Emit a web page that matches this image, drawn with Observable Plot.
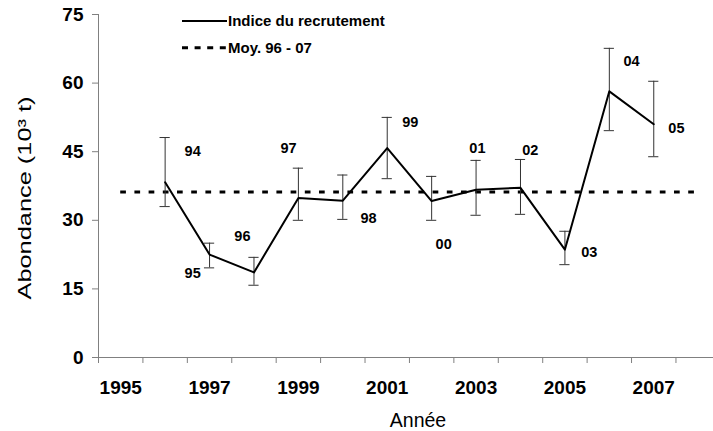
<!DOCTYPE html>
<html>
<head>
<meta charset="utf-8">
<script src="https://cdn.jsdelivr.net/npm/d3@7"></script>
<script src="https://cdn.jsdelivr.net/npm/@observablehq/plot@0.6"></script>
<style>
  html, body { margin: 0; padding: 0; background: #fff; }
  #chart { position: relative; width: 713px; height: 431px; font-family: "Liberation Sans", Arial, sans-serif; }
  #chart svg.main { position: absolute; left: 0; top: 0; }
  #legend { position: absolute; left: 0; top: 0; }
  .main g[aria-label="y-axis tick label"], .main g[aria-label="x-axis tick label"] { font-weight: bold; }
</style>
</head>
<body>
<div id="chart"></div>
<script>
// ---- data ----
const years = [1996, 1997, 1998, 1999, 2000, 2001, 2002, 2003, 2004, 2005, 2006, 2007];
const yearClass = ["94", "95", "96", "97", "98", "99", "00", "01", "02", "03", "04", "05"];
const recruitment = [38.3, 22.5, 18.6, 34.9, 34.3, 45.8, 34.2, 36.7, 37.1, 23.6, 58.2, 51.0];
const lower = [33.0, 19.6, 15.8, 30.0, 30.2, 39.1, 30.0, 31.1, 31.3, 20.3, 49.6, 43.9];
const upper = [48.1, 25.0, 21.9, 41.4, 39.9, 52.5, 39.6, 43.1, 43.3, 27.6, 67.6, 60.4];
const meanValue = 36.2;
const meanSpan = [1995, 2008];
// annotation anchors for the year-class labels (in data units)
const labelYear = [1996.62, 1996.62, 1997.74, 1998.78, 2000.58, 2001.52, 2002.27, 2003.03, 2004.22, 2005.55, 2006.50, 2007.51];
const labelValue = [45.1, 18.4, 26.5, 45.7, 30.5, 51.4, 24.7, 45.7, 45.3, 23.0, 64.7, 50.1];
const yTicks = [0, 15, 30, 45, 60, 75];
const xTickLabels = [1995, 1997, 1999, 2001, 2003, 2005, 2007];
const xDomain = [1994.5, 2008.345];
const yDomain = [0, 75];
const xTitle = "Année";
const yTitle = "Abondance (10³ t)";
const legendLabels = ["Indice du recrutement", "Moy. 96 - 07"];

const rows = years.map((year, i) => ({
  year, cls: yearClass[i], value: recruitment[i], lo: lower[i], hi: upper[i],
  ly: labelYear[i], lv: labelValue[i]
}));
const capHalf = 0.115;
const axisGray = "#808080";
const barGray = "#333";

const plot = Plot.plot({
  width: 713,
  height: 431,
  marginLeft: 98,
  marginRight: 0,
  marginTop: 14,
  marginBottom: 74,
  className: "main",
  style: { fontFamily: "Liberation Sans, Arial, sans-serif", background: "white", color: "black", overflow: "visible" },
  x: { type: "linear", domain: xDomain },
  y: { type: "linear", domain: yDomain },
  marks: [
    Plot.ruleY([0], { stroke: axisGray, strokeWidth: 1 }),
    Plot.ruleX([xDomain[0]], { y1: yDomain[0], y2: yDomain[1], stroke: axisGray, strokeWidth: 1 }),
    Plot.axisY({ ticks: yTicks, tickSize: 6, tickPadding: 9, fontSize: 19, fontWeight: "bold", label: null, stroke: axisGray, tickFormat: d => String(d) }),
    Plot.axisX({ ticks: d3.range(xDomain[0], xDomain[1], 1), tickSize: 6, tickFormat: () => "", label: null, stroke: axisGray }),
    Plot.axisX({ ticks: xTickLabels, tickSize: 0, tickPadding: 23, tickFormat: d => String(d), fontSize: 19, fontWeight: "bold", label: null }),
    Plot.text([yTitle], { text: d => d, frameAnchor: "left", rotate: -90, dx: -74, dy: 12, fontSize: 19, textAnchor: "middle", lineAnchor: "middle" }),
    Plot.text([xTitle], { text: d => d, frameAnchor: "bottom", dx: 12, dy: 63.6, fontSize: 19.5, textAnchor: "middle", lineAnchor: "middle" }),
    Plot.ruleY([meanValue], { x1: meanSpan[0], x2: meanSpan[1], stroke: "black", strokeWidth: 3, strokeDasharray: "5.7,8.5" }),
    Plot.ruleX(rows, { x: "year", y1: "lo", y2: "hi", stroke: barGray, strokeWidth: 1 }),
    Plot.ruleY(rows, { y: "lo", x1: d => d.year - capHalf, x2: d => d.year + capHalf, stroke: barGray, strokeWidth: 1 }),
    Plot.ruleY(rows, { y: "hi", x1: d => d.year - capHalf, x2: d => d.year + capHalf, stroke: barGray, strokeWidth: 1 }),
    Plot.line(rows, { x: "year", y: "value", stroke: "black", strokeWidth: 2 }),
    Plot.text(rows, { x: "ly", y: "lv", text: "cls", fontSize: 14.5, fontWeight: "bold", lineAnchor: "middle" })
  ]
});
document.getElementById("chart").appendChild(plot);

// widen the rotated y title to the reference's length
d3.select(plot).selectAll("text")
  .filter(function () { return this.textContent === yTitle; })
  .attr("textLength", 203)
  .attr("lengthAdjust", "spacingAndGlyphs");

// ---- legend (inside the plot area, top) ----
const legend = d3.select("#chart").append("svg")
  .attr("id", "legend").attr("width", 713).attr("height", 60)
  .style("font-family", "Liberation Sans, Arial, sans-serif");
const legendStyles = [
  { width: 2, dash: null, y: 21 },
  { width: 3, dash: "6,6.6", y: 47.7 }
];
legendLabels.forEach((label, i) => {
  const s = legendStyles[i];
  legend.append("line")
    .attr("x1", 182).attr("x2", 227).attr("y1", s.y).attr("y2", s.y)
    .attr("stroke", "black").attr("stroke-width", s.width)
    .attr("stroke-dasharray", s.dash);
  legend.append("text")
    .attr("x", 228).attr("y", s.y + 5)
    .attr("font-size", 15).attr("font-weight", "bold")
    .text(label);
});
</script>
</body>
</html>
